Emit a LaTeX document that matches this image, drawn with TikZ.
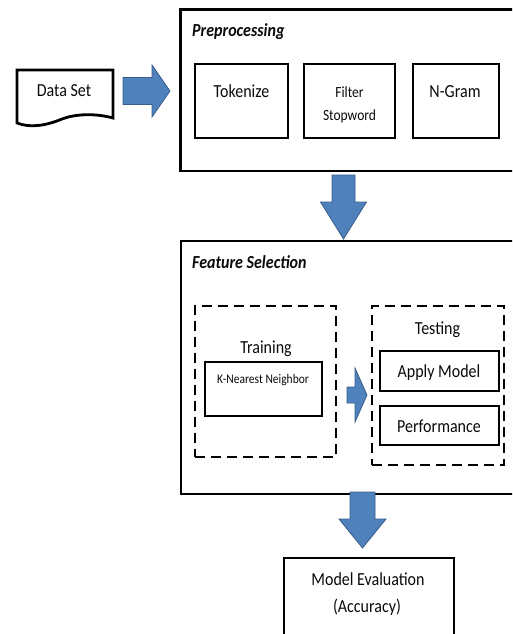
\documentclass[tikz,border=0pt]{standalone}
\usepackage{fontspec}
\setmainfont{Carlito}
\usepackage{graphicx}
\usetikzlibrary{fit}

\definecolor{arrowfill}{RGB}{79,129,189}
\definecolor{arrowedge}{RGB}{56,93,138}
\definecolor{ink}{RGB}{10,10,10}

% slightly tall lettering
\newcommand\tall[1]{\scalebox{1}[1.15]{#1}}

\tikzset{
  box/.style={draw=black, line width=2.8pt, inner sep=0pt},
  dashbox/.style={box, dash pattern=on 10pt off 6pt},
  lbl/.style={inner sep=0pt, anchor=base, text=ink, font=\fontsize{16}{19}\selectfont},
  small/.style={lbl, font=\fontsize{13.5}{16}\selectfont},
  tiny/.style={lbl, font=\fontsize{11.5}{14}\selectfont},
  heading/.style={lbl, anchor=base west, font=\fontsize{16}{19}\selectfont\bfseries\itshape},
  blockarrow/.style={fill=arrowfill, draw=arrowedge, line width=0.8pt, line join=miter}
}

\begin{document}
\begin{tikzpicture}[x=1pt, y=-1pt]
\useasboundingbox (0,0) rectangle (512,634);
\clip (0,0) rectangle (512,634);

% input document
\node[inner sep=0pt, fit={(17,70) (113,123)}] (ds) {};
\draw[line width=2.8pt, line join=miter] (17,123) -- (17,70) -- (113,70) -- (113,118)
  .. controls (95,113) and (75,114) .. (62,119)
  .. controls (45,126) and (30,128) .. (17,123) -- cycle;
\node[lbl] at (64,96.5) {\tall{Data Set}};

% preprocessing stage
\node[box, fit={(180.5,9.5) (530,171)}] (prep) {};
\node[heading] at (192,37) {\tall{Preprocessing}};
\node[box, fit={(195,64) (288,138)}] (tok) {};
\node[box, fit={(304,64) (395,138)}] (filt) {};
\node[box, fit={(413,64) (499,138)}] (ngram) {};
\node[lbl] at (241.5,97) {\tall{Tokenize}};
\node[small] at (349.5,97) {\tall{Filter}};
\node[small] at (349.5,120) {\tall{Stopword}};
\node[lbl] at (455,97) {\tall{N-Gram}};

% feature selection stage
\node[box, fit={(181,241) (530,494)}] (feat) {};
\node[heading] at (192,268) {\tall{Feature Selection}};
\node[dashbox, fit={(195,306) (336,457)}] (train) {};
\node[lbl] at (266,353) {\tall{Training}};
\node[box, fit={(205,362) (322,416)}] (knn) {};
\node[tiny] at (263,383) {\tall{K-Nearest Neighbor}};
\node[dashbox, fit={(372,306) (504,465)}] (test) {};
\node[lbl] at (437.5,334) {\tall{Testing}};
\node[box, fit={(380,351) (499,391)}] (apply) {};
\node[lbl] at (439,377) {\tall{Apply Model}};
\node[box, fit={(380,406) (499,445)}] (perf) {};
\node[lbl] at (439,432) {\tall{Performance}};

% evaluation
\node[box, fit={(284,558) (454,650)}] (eval) {};
\node[lbl] at (368,585) {\tall{Model Evaluation}};
\node[lbl] at (367,612) {\tall{(Accuracy)}};

% block arrows between the stages
\coordinate (a1) at (123,91);
\coordinate (a2) at (343.5,175);
\coordinate (a3) at (347,395);
\coordinate (a4) at (362.5,492);

\draw[blockarrow] (a1) ++(0,-13.5) -- ++(29,0) -- ++(0,-12.5) -- ++(18,26)
  -- ++(-18,26) -- ++(0,-12.5) -- ++(-29,0) -- cycle;
\draw[blockarrow] (a2) ++(-11.5,0) -- ++(0,27) -- ++(-11.5,0) -- ++(23,37)
  -- ++(23,-37) -- ++(-11.5,0) -- ++(0,-27) -- cycle;
\draw[blockarrow] (a3) ++(0,-8) -- ++(8,0) -- ++(0,-19) -- ++(12,27)
  -- ++(-12,27) -- ++(0,-19) -- ++(-8,0) -- cycle;
\draw[blockarrow] (a4) ++(-12.5,0) -- ++(0,27) -- ++(-11,0) -- ++(23.5,29)
  -- ++(23.5,-29) -- ++(-11,0) -- ++(0,-27) -- cycle;
\end{tikzpicture}
\end{document}
